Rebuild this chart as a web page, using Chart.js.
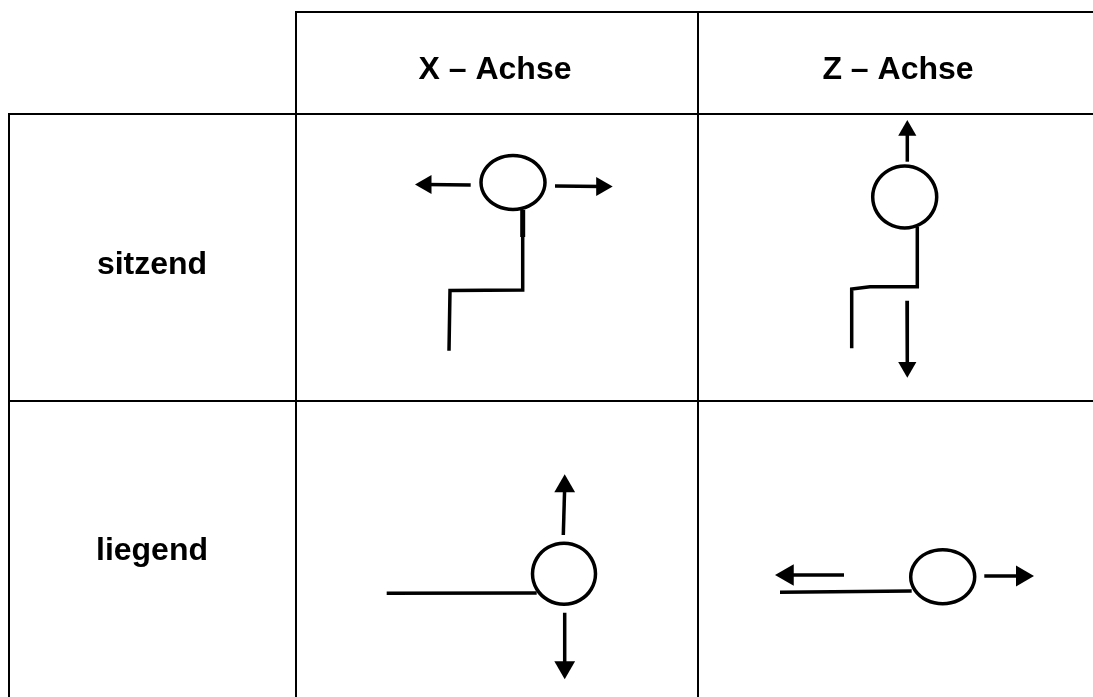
<!DOCTYPE html>
<html lang="de">
<head>
    <meta charset="UTF-8">
    <title>Achsen sitzend / liegend</title>
    <script src="https://cdn.jsdelivr.net/npm/chart.js"></script>
    <style>
        body { margin: 0; background: white; }
        canvas { display: block; }
    </style>
</head>
<body>
    <canvas id="tableChart" width="1093" height="697"></canvas>

    <script>
        // Labels
        const columnLabels = ['X – Achse', 'Z – Achse'];
        const rowLabels = ['sitzend', 'liegend'];

        // Table rules, [x, y] in picture units
        const ruleTop = [[296, 12], [1093, 12]];
        const ruleHead = [[9, 114], [1093, 114]];
        const ruleMiddle = [[9, 401], [1093, 401]];
        const ruleLeft = [[9, 114], [9, 697]];
        const ruleFirst = [[296, 12], [296, 697]];
        const ruleSecond = [[698, 12], [698, 697]];

        // Body lines
        const bodySitzendX = [[522.7, 210], [522.7, 290], [450, 290.5], [449, 350.7]];
        const bodySitzendXThick = [[522.7, 210], [522.7, 237]];
        const bodySitzendZ = [[917.3, 226.7], [917.3, 286.7], [870, 286.7], [851.7, 289], [851.7, 348.3]];
        const bodyLiegendX = [[386.7, 593.3], [536.7, 593]];
        const bodyLiegendZ = [[780, 592.3], [911.7, 591]];

        // Heads (outline)
        const headSitzendX = [[545, 182.5], [540.7, 196], [529, 205.9], [513, 209.5], [497, 205.9], [485.3, 196], [481, 182.5], [485.3, 169], [497, 159.1], [513, 155.5], [529, 159.1], [540.7, 169], [545, 182.5]];
        const headSitzendZ = [[936.7, 197], [932.4, 212.5], [920.7, 223.8], [904.7, 228], [888.7, 223.8], [877, 212.5], [872.7, 197], [877, 181.5], [888.7, 170.2], [904.7, 166], [920.7, 170.2], [932.4, 181.5], [936.7, 197]];
        const headLiegendX = [[595.5, 573.7], [591.3, 589], [579.8, 600.1], [564, 604.2], [548.2, 600.1], [536.7, 589], [532.5, 573.7], [536.7, 558.5], [548.2, 547.3], [564, 543.2], [579.8, 547.3], [591.3, 558.5], [595.5, 573.7]];
        const headLiegendZ = [[974.7, 576.7], [970.4, 590.2], [958.7, 600.1], [942.7, 603.7], [926.7, 600.1], [915, 590.2], [910.7, 576.7], [915, 563.2], [926.7, 553.3], [942.7, 549.7], [958.7, 553.3], [970.4, 563.2], [974.7, 576.7]];

        // Arrow shafts, start to arrowhead
        const shafts = [
            [[470.7, 185], [426, 184.5]],
            [[555, 186], [601.7, 186.5]],
            [[907.3, 161.7], [907.3, 130.5]],
            [[907, 300.7], [907.3, 367.2]],
            [[563.3, 535], [564.7, 486.3]],
            [[564.7, 612.7], [564.7, 667.3]],
            [[844, 575], [787.5, 575]],
            [[984.3, 576], [1022, 576]]
        ];

        // Arrowheads
        const arrowPoints = [[426, 184.5], [601.7, 186.5], [907.3, 130.5], [907.3, 367.2], [564.7, 486.3], [564.7, 667.3], [787.5, 575], [1022, 576]];

        const toPoints = list => list.map(p => ({ x: p[0], y: p[1] }));

        function lineSet(list, width) {
            return {
                data: toPoints(list),
                showLine: true,
                borderColor: '#000',
                borderWidth: width,
                pointRadius: 0,
                borderCapStyle: 'butt',
                borderJoinStyle: 'miter'
            };
        }

        // closed outline: one extra point each side, hidden, so the curve has no kink at the seam
        function outlineSet(list) {
            const closed = [list[list.length - 2], ...list, list[1]];
            return {
                ...lineSet(closed, 3.5),
                tension: 0.35,
                segment: {
                    borderColor: c => (c.p0DataIndex === 0 || c.p1DataIndex === closed.length - 1) ? 'rgba(0,0,0,0)' : '#000'
                }
            };
        }

        const datasets = [
            ...[ruleTop, ruleHead, ruleMiddle, ruleLeft, ruleFirst, ruleSecond].map(r => ({ ...lineSet(r, 2), borderCapStyle: 'square' })),
            ...[bodySitzendX, bodySitzendZ, bodyLiegendX, bodyLiegendZ].map(b => lineSet(b, 3.5)),
            lineSet(bodySitzendXThick, 5),
            ...[headSitzendX, headSitzendZ, headLiegendX, headLiegendZ].map(outlineSet),
            ...shafts.map(s => lineSet(s, 3.5)),
            {
                data: toPoints(arrowPoints),
                showLine: false,
                pointStyle: 'triangle',
                pointRadius: [11, 11, 10.5, 10.5, 12, 12, 12.5, 12],
                pointRotation: [270, 90, 0, 180, 0, 180, 270, 90],
                backgroundColor: '#000',
                borderColor: '#000',
                pointBorderWidth: 0
            }
        ];

        // Table texts, placed through the scales
        const tableText = {
            id: 'tableText',
            afterDatasetsDraw(chart) {
                const { ctx, scales } = chart;
                ctx.save();
                ctx.fillStyle = '#000';
                ctx.textBaseline = 'alphabetic';
                ctx.textAlign = 'center';
                ctx.font = 'bold 32px "Liberation Sans", Arial, sans-serif';
                ctx.fillText(columnLabels[0], scales.x.getPixelForValue(495), scales.y.getPixelForValue(79));
                ctx.fillText(columnLabels[1], scales.x.getPixelForValue(898), scales.y.getPixelForValue(79));
                ctx.fillText(rowLabels[0], scales.x.getPixelForValue(152), scales.y.getPixelForValue(274));
                ctx.fillText(rowLabels[1], scales.x.getPixelForValue(152), scales.y.getPixelForValue(560));
                ctx.restore();
            }
        };

        new Chart(document.getElementById('tableChart'), {
            type: 'scatter',
            data: { datasets },
            plugins: [tableText],
            options: {
                responsive: false,
                animation: false,
                layout: { padding: 0, autoPadding: false },
                plugins: { legend: { display: false }, tooltip: { enabled: false } },
                scales: {
                    x: { type: 'linear', min: 0, max: 1093, display: false },
                    y: { type: 'linear', min: 0, max: 697, reverse: true, display: false }
                }
            }
        });
    </script>
</body>
</html>
